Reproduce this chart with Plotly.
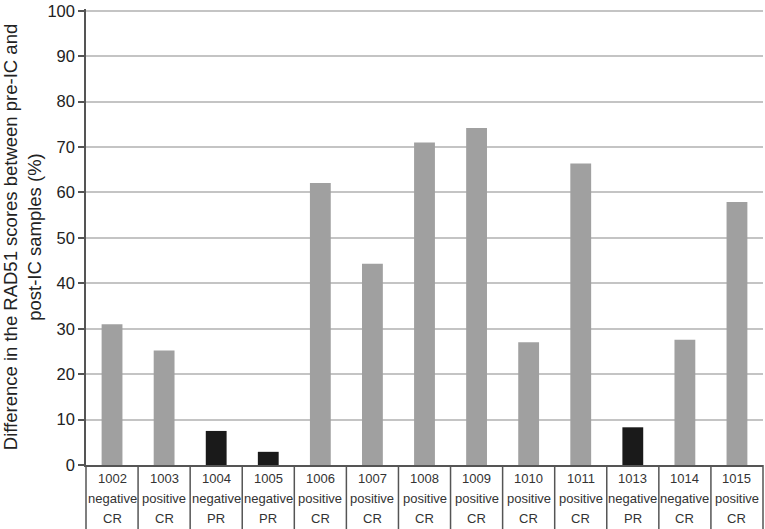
import plotly.graph_objects as go

# datos
pacientes = ['1002', '1003', '1004', '1005', '1006', '1007', '1008',
             '1009', '1010', '1011', '1013', '1014', '1015']
estado = ['negative', 'positive', 'negative', 'negative', 'positive', 'positive', 'positive',
          'positive', 'positive', 'positive', 'negative', 'negative', 'positive']
respuesta = ['CR', 'CR', 'PR', 'PR', 'CR', 'CR', 'CR',
             'CR', 'CR', 'CR', 'PR', 'CR', 'CR']
diferencia = [31.0, 25.2, 7.5, 2.9, 62.1, 44.3, 71.0,
              74.2, 27.0, 66.4, 8.3, 27.6, 57.9]

colores = ['#1a1a1a' if r == 'PR' else '#a0a0a0' for r in respuesta]
n = len(pacientes)

fig = go.Figure()
fig.add_trace(go.Bar(
    x=list(range(n)), y=diferencia,
    marker=dict(color=colores, line=dict(width=0)),
    width=0.4,
    hoverinfo='y',
))

# tabla debajo del eje x
anotaciones = []
for i in range(n):
    for texto, desplaz in [(pacientes[i], -13), (estado[i], -33), (respuesta[i], -53)]:
        anotaciones.append(dict(
            x=i, xref='x', y=0, yref='paper', yanchor='middle', yshift=desplaz,
            text=texto, showarrow=False,
            font=dict(size=13, color='#333333'),
        ))

lineas = []
for i in range(n + 1):
    lineas.append(dict(
        type='line', xref='paper', yref='paper',
        x0=i / n, x1=i / n, y0=0, y1=-0.2,
        line=dict(color='#555555', width=1.5),
    ))

fig.update_layout(
    width=765, height=529,
    margin=dict(l=86, r=2, t=9, b=64),
    plot_bgcolor='white', paper_bgcolor='white',
    font=dict(family='Liberation Sans, Arial, sans-serif', color='#222222'),
    showlegend=False,
    bargap=0.6,
    annotations=anotaciones,
    shapes=lineas,
    xaxis=dict(
        range=[-0.5, n - 0.5],
        showticklabels=False, ticks='', showgrid=False, zeroline=False,
        showline=True, linecolor='#555555', linewidth=1.5,
        fixedrange=True,
    ),
    yaxis=dict(
        range=[0, 100.4],
        tickvals=list(range(0, 101, 10)),
        tickfont=dict(size=16.5, color='#222222'),
        ticks='outside', ticklen=6, tickcolor='#555555', tickwidth=1.5,
        showgrid=True, gridcolor='#c4c4c4', gridwidth=1.5,
        zeroline=False,
        showline=True, linecolor='#555555', linewidth=1.5,
        title=dict(
            text='Difference in the RAD51 scores between pre-IC and<br>post-IC samples (%)',
            font=dict(size=18.5, color='#222222'),
            standoff=4,
        ),
    ),
)

# quitar el margen del body para que la figura ocupe toda la ventana
fig.write_html('out.html', config={'displayModeBar': False},
               post_script="document.body.style.margin='0';document.body.style.overflow='hidden';")
